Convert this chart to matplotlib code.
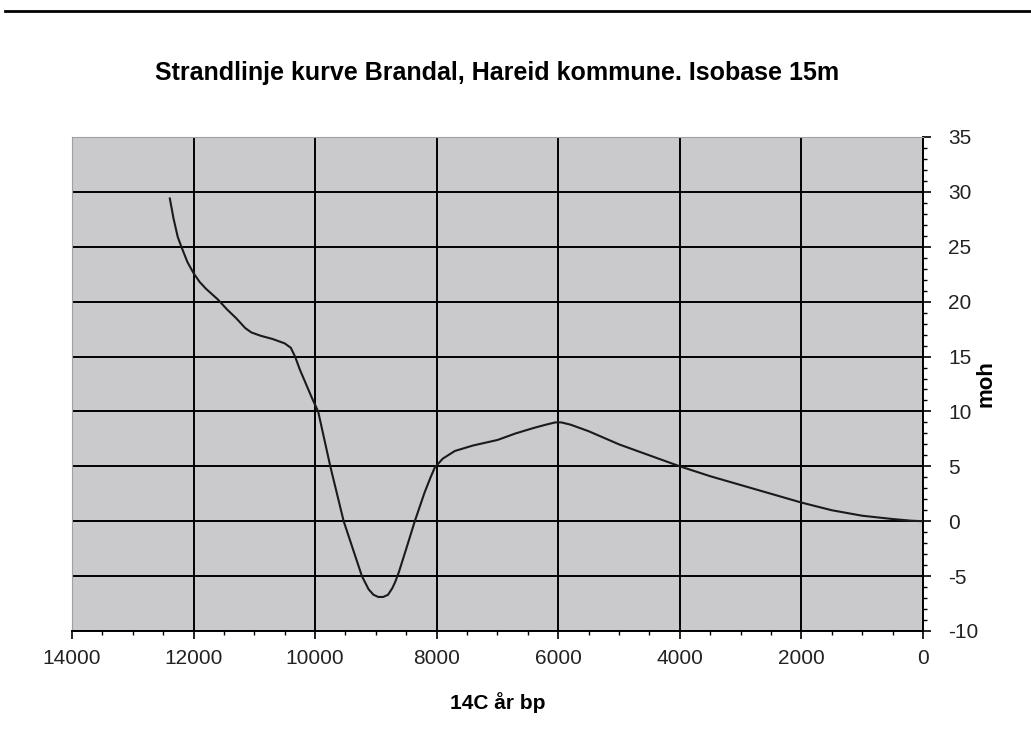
import matplotlib.pyplot as plt
from matplotlib.ticker import MultipleLocator, FuncFormatter
from matplotlib.lines import Line2D

plt.rcParams['font.family'] = ['Liberation Sans', 'DejaVu Sans']
plt.rcParams['axes.unicode_minus'] = False

# Shoreline displacement curve
years = [12390, 12330, 12260, 12200, 12100, 12000, 11900, 11800, 11600, 11450,
         11300, 11150, 11050, 10900, 10700, 10500, 10400, 10330, 10250, 10150,
         10050, 9950, 9850, 9750, 9640, 9530, 9380, 9230, 9120, 9040,
         8960, 8880, 8800, 8730, 8680, 8620, 8500, 8360, 8200, 8100,
         8030, 7900, 7700, 7400, 7000, 6700, 6400, 6200, 6050, 5950,
         5800, 5500, 5000, 4500, 4000, 3500, 3000, 2500, 2000, 1500,
         1000, 500, 200, 0]
moh = [29.4, 27.6, 25.9, 25.0, 23.6, 22.6, 21.8, 21.2, 20.2, 19.3,
       18.5, 17.6, 17.2, 16.9, 16.6, 16.2, 15.8, 15.0, 13.8, 12.5,
       11.2, 10.0, 7.5, 5.0, 2.5, 0.0, -2.5, -5.0, -6.2, -6.7,
       -6.9, -6.9, -6.7, -6.1, -5.5, -4.6, -2.5, 0.0, 2.6, 4.0,
       4.9, 5.7, 6.4, 6.9, 7.4, 8.0, 8.5, 8.8, 9.0, 9.0,
       8.8, 8.2, 7.0, 6.0, 5.0, 4.1, 3.3, 2.5, 1.7, 1.0,
       0.5, 0.2, 0.05, 0.0]

fig = plt.figure(figsize=(10.31, 7.47), dpi=100)
ax = fig.add_axes([0.0698, 0.1553, 0.8254, 0.6613])
ax.set_facecolor('#cacacd')

ax.plot(years, moh, color='#1a1a1a', linewidth=1.5, zorder=3)

ax.set_xlim(14000, 0)
ax.set_ylim(-10, 35)
ax.xaxis.set_major_locator(MultipleLocator(2000))
ax.xaxis.set_minor_locator(MultipleLocator(500))
ax.yaxis.set_major_locator(MultipleLocator(5))
ax.yaxis.set_minor_locator(MultipleLocator(1))
ax.yaxis.set_major_formatter(FuncFormatter(lambda v, p: '%d' % v))
ax.yaxis.tick_right()
ax.yaxis.set_label_position('right')

ax.grid(True, which='major', color='black', linewidth=1.4, zorder=1)
ax.set_axisbelow(True)

ax.tick_params(axis='both', which='major', direction='out', length=6,
               width=1.2, labelsize=15, colors='black', labelcolor='#222222')
ax.tick_params(axis='both', which='minor', direction='out', length=3, width=1)
ax.tick_params(axis='x', pad=7)
ax.tick_params(axis='y', pad=12)

for side in ['top', 'left']:
    ax.spines[side].set_color('#a0a0a0')
    ax.spines[side].set_linewidth(0.8)
for side in ['right', 'bottom']:
    ax.spines[side].set_color('black')
    ax.spines[side].set_linewidth(1.4)

ax.set_xlabel('14C år bp', fontsize=15, fontweight='bold', labelpad=17)
ax.set_ylabel('moh', fontsize=16, fontweight='bold', rotation=90, labelpad=-2)
ax.set_title('Strandlinje kurve Brandal, Hareid kommune. Isobase 15m',
             fontsize=18, fontweight='bold', pad=41, x=0.5)

# black rule across the top of the picture
fig.add_artist(Line2D([0.005, 1.0], [0.985, 0.985], color='black',
                      linewidth=2, transform=fig.transFigure))

fig.savefig('out.png', dpi=100)
